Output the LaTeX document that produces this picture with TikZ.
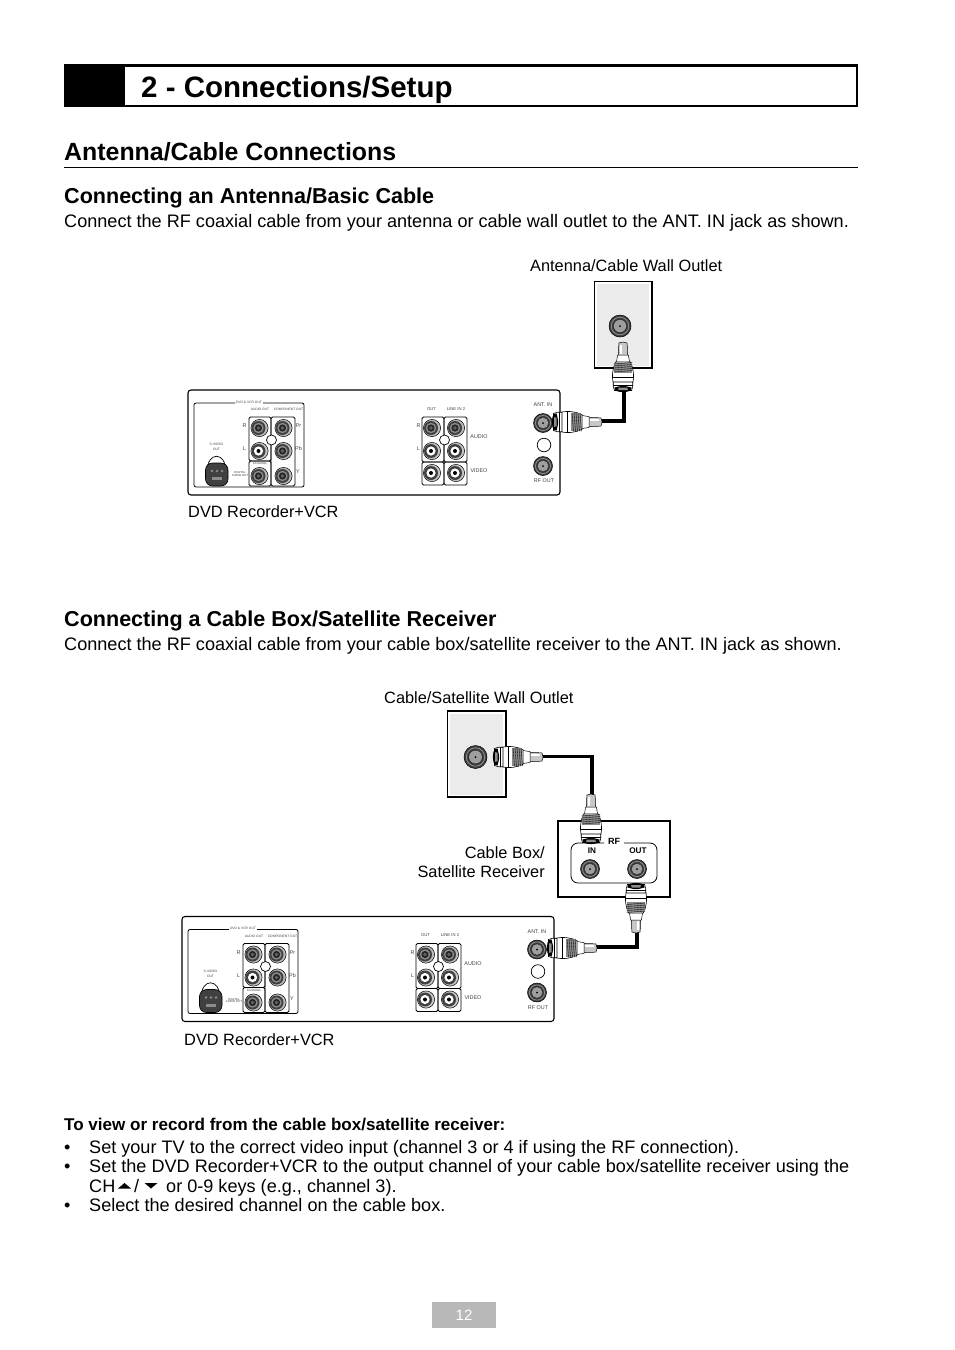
\documentclass[tikz,border=0pt]{standalone}
\usepackage{fontspec}
\setmainfont{Liberation Sans}
\definecolor{wallgrey}{gray}{0.92}
\definecolor{jackgrey}{gray}{0.55}
\definecolor{jackdark}{gray}{0.25}
\definecolor{plugmid}{gray}{0.78}
\newcommand\fsz[1]{\fontsize{#1}{#1}\selectfont}
% x y
\newcommand\rcadark[2]{%
  \fill[jackgrey!60,draw=black,line width=.5pt] (#1,#2) circle (8.6);
  \fill[jackdark] (#1-1,#2) circle (7);
  \fill[jackgrey] (#1-1,#2) circle (5.2);
  \fill[black!85] (#1-1,#2) circle (3.6);
  \fill[jackgrey!70!black] (#1-1,#2) circle (1.8);}
\newcommand\rcalight[2]{%
  \fill[jackgrey!50,draw=black,line width=.5pt] (#1,#2) circle (8.6);
  \fill[jackdark] (#1-1,#2) circle (7);
  \fill[white] (#1-1,#2) circle (4.6);
  \fill[black] (#1-1,#2) circle (2);}
\newcommand\coaxjack[3]{% x y r
  \fill[jackdark,draw=black,line width=.5pt] (#1,#2) circle (#3);
  \draw[jackgrey,line width=.8pt] (#1,#2) circle ({#3*.8});
  \fill[black!80] (#1,#2) circle ({#3*.66});
  \fill[jackgrey!85] (#1,#2) circle ({#3*.56});
  \fill[black] (#1,#2) circle (1);}
\tikzset{
  x=1pt,y=-1pt,
  tiny label/.style={inner sep=0pt,font=\fsz{4.2},text=black!75},
  micro label/.style={inner sep=0pt,font=\fsz{3.3},text=black!75},
  small label/.style={inner sep=0pt,font=\fsz{5.4},text=black!75},
  body/.style={anchor=base west,inner sep=0pt,font=\fsz{18.1}},
  subhead/.style={anchor=base west,inner sep=0pt,font=\fsz{21.55}\bfseries},
  sub box/.style={draw=black,line width=.9pt,rounded corners=1.5pt},
  cable/.style={draw=black,line width=3.3pt,line join=miter},
  wall plate/.style={draw=black,line width=1.4pt,fill=white},
  pics/plug/.style={code={
    % head at 0, tail at 50, along +x
    \begin{scope}[yscale=1.22]
    \fill[plugmid,draw=black,line width=.5pt] (36,-3.8) -- (49,-3.4) -- (50,0) -- (49,3.4) -- (36,3.8) -- cycle;
    \fill[white] (38,-2.6) rectangle (47,-.6);
    \fill[white,draw=black,line width=.5pt] (29,-5.5) -- (37,-4.4) -- (37,4.4) -- (29,5.5) -- cycle;
    \fill[white,draw=black,line width=.6pt] (8,-7.8) .. controls (16,-9.5) and (24,-8.5) .. (30,-6) -- (30,6) .. controls (24,8.5) and (16,9.5) .. (8,7.8) -- cycle;
    \fill[plugmid!70!black] (19,-7.6) rectangle (29,7.6);
    \foreach \k in {20,22,...,28} \draw[black,line width=.35pt] (\k,-7.6) -- (\k+1.5,7.6);
    \draw[black,line width=.5pt] (15,-8.2) -- (15,8.2);
    \fill[white,draw=black,line width=.6pt] (1.5,-7) .. controls (4,-8) and (7,-8.3) .. (10,-8) -- (10,8) .. controls (7,8.3) and (4,8) .. (1.5,7) -- cycle;
    \fill[black] (1.5,-6.5) -- (4.5,-7) -- (6,-2) -- (6,2) -- (4.5,7) -- (1.5,6.5) .. controls (-.6,3) and (-.6,-3) .. (1.5,-6.5);
    \fill[jackgrey] (2,-4) -- (4.5,-3.5) -- (4.5,3.5) -- (2,4) -- cycle;
    \draw[black,line width=.5pt] (7,-8) -- (7,8);
    \end{scope}
  }},
  pics/rearpanel/.style={code={
    \draw[line width=1.1pt,rounded corners=3pt] (188,390) rectangle (560,495);
    \draw[line width=.8pt,rounded corners=2pt] (235,403) -- (194,403) -- (194,487) -- (304,487) -- (304,403) -- (263,403);
    \node[micro label] (-dvdvcr) at (249,402) {DVD \& VCR OUT};
    \node[micro label] (-audout) at (260,409.5) {AUDIO OUT};
    \node[micro label] (-compout) at (288.5,409.5) {COMPONENT OUT};
    \draw[sub box] (249,417) rectangle (271,461);
    \draw[sub box] (249,461) rectangle (271,486);
    \draw[sub box] (271,417) rectangle (295,486);
    \rcadark{259.5}{428}\rcalight{259.5}{451}\rcadark{259.5}{476}
    \rcadark{283.5}{428}\rcadark{283.5}{451}\rcadark{283.5}{476}
    \draw[line width=.7pt,fill=white] (271.5,440) circle (5);
    \node[small label] (-r) at (244.5,426) {R};
    \node[small label] (-l) at (244.5,449) {L};
    \node[small label] (-pr) at (298.5,426) {Pr};
    \node[small label] (-pb) at (298.5,449) {Pb};
    \node[small label] (-y) at (298,472) {Y};
    \node[micro label,fill=white,inner xsep=.5pt] (-coax) at (260,463.5) {COAXIAL};
    \node[inner sep=0pt,font=\fsz{2.9},text=black!75,align=center] (-dig) at (240,474) {DIGITAL\\[-.4pt]AUDIO OUT};
    \node[micro label,align=center] (-sv) at (216.5,447) {S-VIDEO\\[1.6pt]OUT};
    \draw[line width=.7pt] (207,472) .. controls (207,451) and (226,451) .. (226,472);
    \fill[jackdark,draw=black,line width=.6pt,rounded corners=7pt] (205.5,463) rectangle (228,486);
    \fill[black!75,rounded corners=5pt] (208,465.5) rectangle (225.5,483.5);
    \foreach \p in {212,217,222} \fill[jackgrey] (\p,471) circle (1.3);
    \fill[jackgrey] (212,477) rectangle (222,480);
    % line section
    \draw[sub box] (422,417) rectangle (444,462);
    \draw[sub box] (444,417) rectangle (467,462);
    \draw[sub box] (422,462) rectangle (444,485);
    \draw[sub box] (444,462) rectangle (467,485);
    \rcadark{432}{428}\rcalight{432}{451}\rcalight{432}{473}
    \rcadark{456}{428}\rcalight{456}{451}\rcalight{456}{473}
    \draw[line width=.7pt,fill=white] (444.5,440) circle (5);
    \node[tiny label] (-out) at (431.5,409) {OUT};
    \node[tiny label] (-linein) at (456,409) {LINE IN 2};
    \node[small label] (-r2) at (418.5,426) {R};
    \node[small label] (-l2) at (418.5,449) {L};
    \node[small label] (-audio) at (479,437) {AUDIO};
    \node[small label] (-video) at (479,471) {VIDEO};
    \node[small label] (-ant) at (543,405) {ANT. IN};
    \coaxjack{543}{423}{9.5}
    \draw[line width=.7pt,fill=white] (544,445) circle (6.8);
    \coaxjack{543}{466}{9.5}
    \node[small label] (-rfout) at (544,481) {RF OUT};
  }}
}
\begin{document}
\begin{tikzpicture}
\useasboundingbox (0,0) rectangle (954,1350);
% title bar
\fill[black] (64,64) rectangle (125,107);
\draw[line width=2.6pt] (65,65.5) rectangle (857,106);
\node[anchor=base west,inner sep=0pt,font=\fsz{29.5}\bfseries] (title) at (141,97) {2 - Connections/Setup};
\node[anchor=base west,inner sep=0pt,font=\fsz{24.9}\bfseries] (section) at (64,160) {Antenna/Cable Connections};
\draw[line width=.7pt] (64,167.5) -- (858,167.5);
\node[subhead] (h1) at (64,203) {Connecting an Antenna/Basic Cable};
\node[body] (t1) at (64,227) {Connect the RF coaxial cable from your antenna or cable wall outlet to the ANT. IN jack as shown.};
\node[body,font=\fsz{16.35}] (l1) at (530,271) {Antenna/Cable Wall Outlet};
% first wall plate
\draw[wall plate] (594.5,281.5) rectangle (652,368);
\fill[wallgrey] (596.5,283.5) rectangle (649,366);
\coaxjack{620}{326}{11}
\pic (panel1) {rearpanel};
\node[body,font=\fsz{16.35}] (l2) at (188,517) {DVD Recorder+VCR};
\coordinate (c1a) at (624,391);
\coordinate (c1b) at (602,421);
\draw[cable] (c1a) |- (c1b);
\pic[rotate=90] at (623,392) {plug};
\pic at (552,422) {plug};
% second section
\node[subhead] (h2) at (64,626) {Connecting a Cable Box/Satellite Receiver};
\node[body] (t2) at (64,650) {Connect the RF coaxial cable from your cable box/satellite receiver to the ANT. IN jack as shown.};
\node[body,font=\fsz{16.35}] (l3) at (384,703) {Cable/Satellite Wall Outlet};
\draw[wall plate] (447.5,711) rectangle (506,797);
\fill[wallgrey] (450,713.5) rectangle (503,794.5);
\coaxjack{475.5}{757}{11.5}
% cable box
\draw[line width=1.4pt,fill=white] (558,821) rectangle (670,897);
\draw[line width=.8pt,rounded corners=7pt] (604,843) -- (571,843) -- (571,883) -- (657,883) -- (657,843) -- (624,843);
\node[inner sep=0pt,font=\fsz{9}\bfseries] (rf) at (614,841) {RF};
\node[inner sep=0pt,font=\fsz{8.2}\bfseries] (in) at (592,851) {IN};
\node[inner sep=0pt,font=\fsz{8.2}\bfseries] (outl) at (638,851) {OUT};
\coaxjack{590}{869}{9.5}
\coaxjack{637}{869}{9.5}
\node[anchor=base east,inner sep=0pt,font=\fsz{16.35}] (l4) at (545,858) {Cable Box/};
\node[anchor=base east,inner sep=0pt,font=\fsz{16.35}] (l5) at (545,877) {Satellite Receiver};
\begin{scope}[shift={(-6,526.5)}]
\pic (panel2) {rearpanel};
\end{scope}
\node[body,font=\fsz{16.35}] (l6) at (184,1045) {DVD Recorder+VCR};
\coordinate (c2a) at (542,756.5);
\coordinate (c2b) at (592,797);
\draw[cable] (c2a) -| (c2b);
\coordinate (c3a) at (637,932);
\coordinate (c3b) at (596,947);
\draw[cable] (c3a) |- (c3b);
\pic at (493,757) {plug};
\pic[rotate=90] at (591,844) {plug};
\pic[rotate=-90] at (636,883) {plug};
\pic at (547,948) {plug};
% list
\node[anchor=base west,inner sep=0pt,font=\fsz{17.05}\bfseries] (h3) at (64,1130) {To view or record from the cable box/satellite receiver:};
\node[body] (b1) at (64,1153) {•};
\node[body] (s1) at (89,1153) {Set your TV to the correct video input (channel 3 or 4 if using the RF connection).};
\node[body] (b2) at (64,1172) {•};
\node[body] (s2) at (89,1172) {Set the DVD Recorder+VCR to the output channel of your cable box/satellite receiver using the};
\node[body] (s3a) at (89,1192) {CH};
\fill (118,1188.5) -- (131,1188.5) -- (124.5,1183) -- cycle;
\node[body] (s3b) at (134,1192) {/};
\fill (144.5,1183) -- (157.5,1183) -- (151,1188.5) -- cycle;
\node[body] (s3c) at (166,1192) {or 0-9 keys (e.g., channel 3).};
\node[body] (b3) at (64,1211) {•};
\node[body] (s4) at (89,1211) {Select the desired channel on the cable box.};
% page number
\node[fill=black!28,text=white,minimum width=64pt,minimum height=26pt,inner sep=0pt,font=\fsz{15}] (page) at (464,1315) {12};
\end{tikzpicture}
\end{document}
